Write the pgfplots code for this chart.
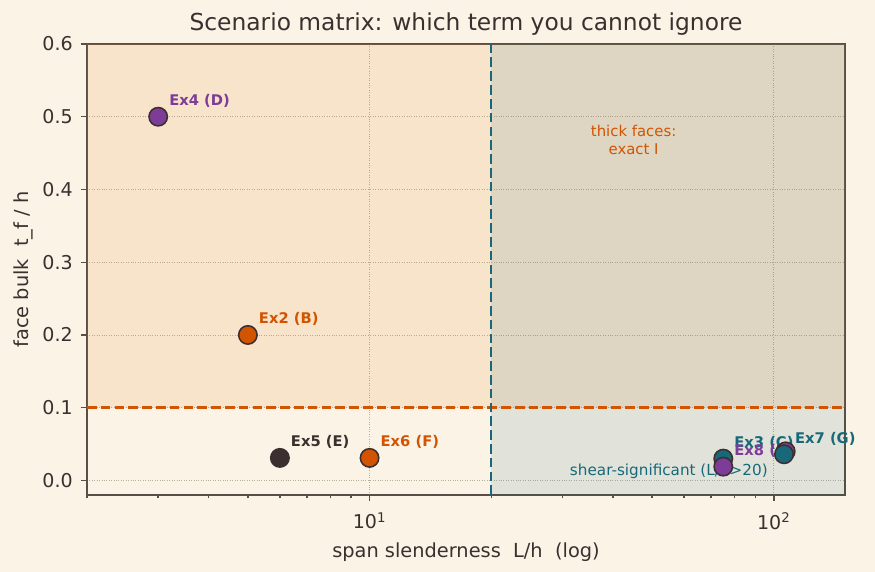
\documentclass[border=0pt]{standalone}
\usepackage{pgfplots}
\pgfplotsset{compat=1.18}
\usepackage{fontspec}
\setmainfont{DejaVu Sans}

\definecolor{bg}{HTML}{FAF3E6}
\definecolor{ink}{HTML}{3B2F2F}
\definecolor{spine}{HTML}{5A4E46}
\definecolor{cOrange}{HTML}{D35400}
\definecolor{cShade}{HTML}{E8892A}
\definecolor{cPurple}{HTML}{7D3C98}
\definecolor{cTeal}{HTML}{17697A}
\definecolor{gridc}{HTML}{B8AE9E}

\tikzset{
  lbl/.style={anchor=south west, inner sep=0pt, xshift=6.2bp, yshift=5bp,
              font=\bfseries\fontsize{8.5}{10}\selectfont},
  pt/.style={only marks, mark=*, mark size=5.3bp,
             mark options={fill=#1, draw=ink, line width=0.9bp}},
}

\begin{document}
\begin{tikzpicture}
\fill[bg] (-50.11bp,-44.35bp) rectangle (453.89bp,285.12bp);
\path[use as bounding box] (-50.11bp,-44.35bp) rectangle (453.89bp,285.12bp);
\begin{axis}[
  at={(0bp,0bp)}, anchor=south west,
  scale only axis, width=436.6bp, height=259.8bp,
  xmode=log, log basis x=10,
  xmin=2, xmax=150, ymin=-0.02, ymax=0.6,
  xtick={10,100}, xticklabels={10\textsuperscript{1},10\textsuperscript{2}},
  minor xtick={2,3,4,5,6,7,8,9,20,30,40,50,60,70,80,90},
  ytick={0,0.1,0.2,0.3,0.4,0.5,0.6},
  yticklabels={0.0,0.1,0.2,0.3,0.4,0.5,0.6},
  tick pos=left, tick align=outside,
  major tick length=3.5bp, minor tick length=2bp,
  tick style={spine, line width=0.8bp},
  axis line style={spine, line width=0.8bp},
  grid=major,
  major grid style={densely dotted, gridc, line width=0.5bp},
  ticklabel style={font=\fontsize{11}{13}\selectfont, text=ink},
  yticklabel style={xshift=-1.2bp},
  xticklabel style={yshift=-3bp},
  clip=false,
]
% regime shading: thick faces above t_f/h = 0.1, shear-significant beyond L/h = 20
\addplot[draw=none, fill=cShade, fill opacity=0.14]
  coordinates {(2,0.1) (150,0.1) (150,0.6) (2,0.6)} -- cycle;
\addplot[draw=none, fill=cTeal, fill opacity=0.11]
  coordinates {(20,-0.02) (150,-0.02) (150,0.6) (20,0.6)} -- cycle;
% threshold lines
\addplot[cOrange, line width=1.4bp, dash pattern=on 5.55bp off 2.4bp]
  coordinates {(2,0.1) (150,0.1)};
\addplot[cTeal, line width=1.4bp, dash pattern=on 5.55bp off 2.4bp]
  coordinates {(20,-0.02) (20,0.6)};

% scenarios
\addplot[pt=cPurple] coordinates {(3,0.5)};
\addplot[pt=cOrange] coordinates {(5,0.2)};
\addplot[pt=ink]     coordinates {(6,0.031)};
\addplot[pt=cOrange] coordinates {(10,0.031)};
\addplot[pt=cTeal]   coordinates {(75,0.030)};
\addplot[pt=cPurple] coordinates {(75,0.019)};
\addplot[pt=cPurple] coordinates {(107,0.040)};
\addplot[pt=cTeal]   coordinates {(106,0.036)};

% region notes
\node[text=cOrange, font=\fontsize{8.6}{10.5}\selectfont, align=center]
  at (axis cs:45,0.468) {thick faces:\\exact I};
\node[text=cTeal, font=\fontsize{8.8}{10.5}\selectfont]
  at (axis cs:55,0.012) {shear-significant (L/h>20)};

% scenario labels
\node[lbl, text=cPurple] at (axis cs:3,0.5) {Ex4 (D)};
\node[lbl, text=cOrange] at (axis cs:5,0.2) {Ex2 (B)};
\node[lbl, text=ink]     at (axis cs:6,0.031) {Ex5 (E)};
\node[lbl, text=cOrange] at (axis cs:10,0.031) {Ex6 (F)};
\node[lbl, text=cTeal]   at (axis cs:75,0.030) {Ex3 (C)};
\node[lbl, text=cPurple] at (axis cs:75,0.019) {Ex8 (H)};
\node[lbl, text=cTeal]   at (axis cs:106,0.036) {Ex7 (G)};
\end{axis}

\node[anchor=base, text=ink, font=\fontsize{13.5}{16}\selectfont]
  at (218.3bp,267.3bp) {Scenario matrix: which term you cannot ignore};
\node[anchor=base, text=ink, font=\fontsize{11.2}{13}\selectfont]
  at (218.3bp,-36.2bp) {span slenderness\ \ L/h\ \ (log)};
\node[rotate=90, anchor=base, text=ink, font=\fontsize{11.2}{13}\selectfont]
  at (-33.9bp,129.9bp) {face bulk\ \ t\_f / h};
\end{tikzpicture}
\end{document}
